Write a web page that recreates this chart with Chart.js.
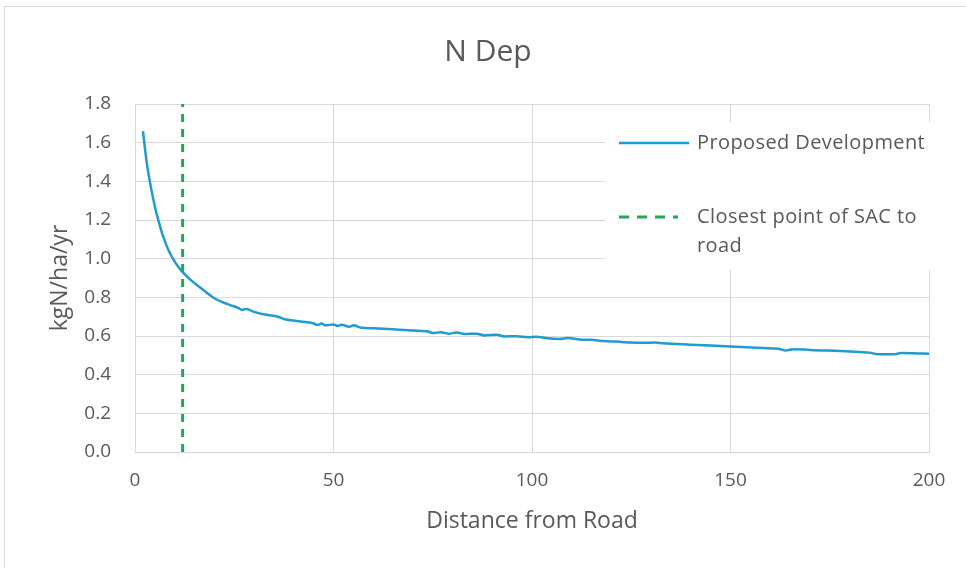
<!DOCTYPE html>
<html>
<head>
<meta charset="utf-8">
<script src="https://cdn.jsdelivr.net/npm/chart.js@4.4.0/dist/chart.umd.min.js"></script>
<style>
  html, body { margin: 0; padding: 0; background: #ffffff; }
  #wrap { position: relative; width: 966px; height: 568px; }
  #frame { position: absolute; left: 4px; top: 6px; width: 980px; height: 600px; border: 1px solid #d9d9d9; box-sizing: border-box; }
  canvas { position: absolute; left: 0; top: 0; }
</style>
</head>
<body>
<div id="wrap">
  <div id="frame"></div>
  <canvas id="c" width="966" height="568"></canvas>
</div>
<script>
const chartTitle = "N Dep";
const xAxisTitle = "Distance from Road";
const yAxisTitle = "kgN/ha/yr";
const seriesName = "Proposed Development";
const markerName = ["Closest point of SAC to", "road"];

const distance = [2, 3, 4, 5, 6, 7, 8, 9, 10, 11, 12, 14, 16, 18, 20, 22, 24, 26, 27, 28, 30, 33, 36, 38, 40, 43, 45, 46, 47, 48, 50, 51, 52, 54, 55, 57, 60, 65, 70, 74, 75, 77, 79, 81, 83, 86, 88, 91, 93, 96, 99, 101, 104, 107, 109, 112, 115, 117, 120, 122, 125, 128, 131, 133, 140, 150, 158, 162, 164, 166, 170, 180, 185, 187, 191, 193, 196, 200];
const nDep = [1.66, 1.49, 1.37, 1.27, 1.19, 1.12, 1.065, 1.02, 0.985, 0.955, 0.93, 0.89, 0.857, 0.825, 0.795, 0.775, 0.76, 0.745, 0.735, 0.74, 0.725, 0.71, 0.70, 0.685, 0.68, 0.672, 0.665, 0.657, 0.665, 0.655, 0.66, 0.652, 0.658, 0.648, 0.655, 0.643, 0.64, 0.635, 0.628, 0.622, 0.615, 0.62, 0.612, 0.618, 0.61, 0.612, 0.603, 0.607, 0.598, 0.599, 0.594, 0.596, 0.588, 0.585, 0.59, 0.582, 0.58, 0.576, 0.572, 0.57, 0.566, 0.565, 0.566, 0.562, 0.555, 0.546, 0.538, 0.534, 0.525, 0.532, 0.528, 0.52, 0.514, 0.506, 0.505, 0.512, 0.511, 0.508];
const closestPointX = [12, 12];
const closestPointY = [0, 1.8];
const xTicks = [0, 50, 100, 150, 200];
const yTicks = [0, 0.2, 0.4, 0.6, 0.8, 1.0, 1.2, 1.4, 1.6, 1.8];

const lineColor = "#1f9bd1";
const dashColor = "#23a55a";
const textColor = "#595959";
const gridColor = "#d9d9d9";
const sans = "'Open Sans', 'Noto Sans', sans-serif";

const legendPlugin = {
  id: 'inlineLegend',
  afterDatasetsDraw(chart) {
    const ctx = chart.ctx;
    const x0 = 605, y0 = 122, w = 336, h = 148;
    ctx.save();
    ctx.fillStyle = "#ffffff";
    ctx.fillRect(x0, y0, w, h);
    ctx.font = "20px " + sans;
    ctx.letterSpacing = "0.4px";
    ctx.fillStyle = textColor;
    ctx.textBaseline = "middle";
    ctx.strokeStyle = lineColor;
    ctx.lineWidth = 2.5;
    ctx.beginPath(); ctx.moveTo(619, 143); ctx.lineTo(689, 143); ctx.stroke();
    ctx.fillText(seriesName, 697, 143);
    ctx.strokeStyle = dashColor;
    ctx.lineWidth = 3;
    ctx.setLineDash([10, 8]);
    ctx.beginPath(); ctx.moveTo(619, 217); ctx.lineTo(678, 217); ctx.stroke();
    ctx.setLineDash([]);
    ctx.fillText(markerName[0], 697, 217);
    ctx.fillText(markerName[1], 697, 246);
    ctx.restore();
  }
};

new Chart(document.getElementById('c'), {
  type: 'scatter',
  data: {
    datasets: [
      {
        label: seriesName,
        data: distance.map((d, i) => ({ x: d, y: nDep[i] })),
        showLine: true,
        borderColor: lineColor,
        borderWidth: 2.5,
        pointRadius: 0,
        cubicInterpolationMode: 'monotone',
        order: 1
      },
      {
        label: markerName.join(' '),
        data: closestPointX.map((d, i) => ({ x: d, y: closestPointY[i] })),
        showLine: true,
        borderColor: dashColor,
        borderWidth: 3,
        borderDash: [8, 7],
        pointRadius: 0,
        order: 0
      }
    ]
  },
  options: {
    responsive: false,
    animation: false,
    layout: { padding: { left: 47, right: 37, top: 0, bottom: 33 } },
    plugins: {
      legend: { display: false },
      tooltip: { enabled: false },
      title: {
        display: true,
        text: chartTitle,
        color: textColor,
        font: { family: sans, size: 30, weight: 'normal' },
        padding: { top: 34, bottom: 34 }
      }
    },
    scales: {
      x: {
        type: 'linear',
        min: 0, max: 200,
        afterBuildTicks: (s) => { s.ticks = xTicks.map(v => ({ value: v })); },
        afterFit: (s) => { s.height = 83; },
        grid: { color: gridColor, drawTicks: false, lineWidth: 1 },
        border: { color: gridColor },
        ticks: { color: textColor, font: { family: sans, size: 19 }, padding: 17, maxRotation: 0 },
        title: { display: true, text: xAxisTitle, color: textColor, font: { family: sans, size: 23 }, padding: 0 }
      },
      y: {
        type: 'linear',
        min: 0, max: 1.8,
        afterBuildTicks: (s) => { s.ticks = yTicks.map(v => ({ value: v })); },
        afterFit: (s) => { s.width = 88; },
        grid: { color: gridColor, drawTicks: false, lineWidth: 1 },
        border: { color: gridColor },
        ticks: { color: textColor, font: { family: sans, size: 19 }, padding: 24, callback: (v) => Number(v).toFixed(1) },
        title: { display: true, text: yAxisTitle, color: textColor, font: { family: sans, size: 23 }, padding: 0 }
      }
    }
  },
  plugins: [legendPlugin]
});
</script>
</body>
</html>
